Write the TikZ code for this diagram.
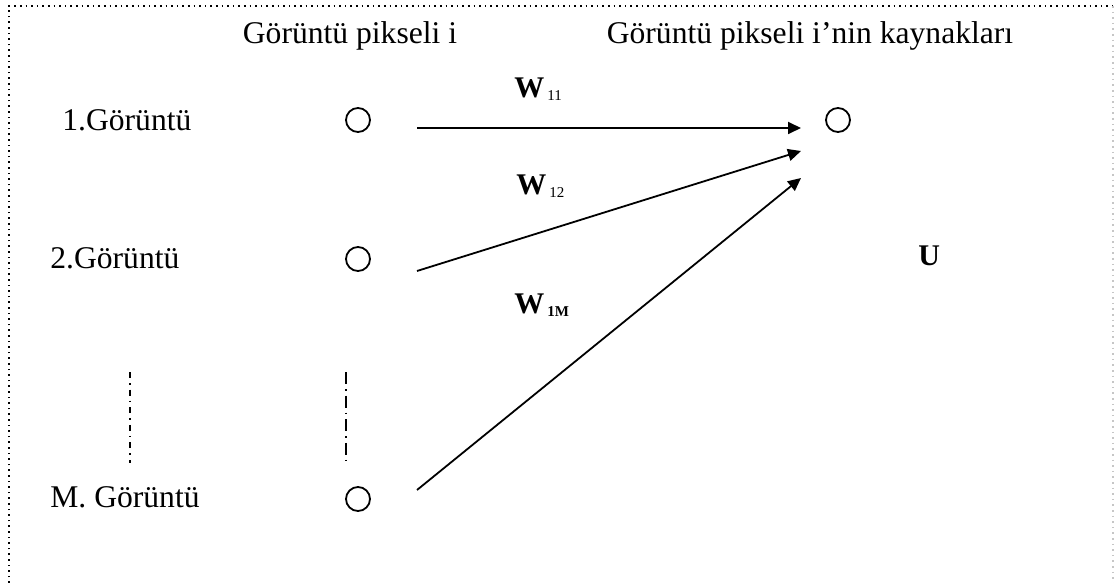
\documentclass[tikz,border=0pt]{standalone}
\usepackage{fontspec}
\setmainfont{Liberation Serif}
\usepackage{tikz}
\usetikzlibrary{arrows.meta,positioning}

\newcommand{\wsub}[1]{{\fontsize{7.5}{9}\selectfont\raisebox{-1.5pt}{#1}}}

\begin{document}
\begin{tikzpicture}[x=0.5pt,y=-0.5pt,
  lbl/.style={inner sep=0pt,font=\fontsize{15.8}{18}\selectfont},
  wlbl/.style={inner sep=0pt,anchor=west,font=\fontsize{15}{17}\selectfont\bfseries},
  pix/.style={circle,draw,line width=0.9pt,minimum size=12pt,inner sep=0pt},
  arrow/.style={-{Triangle[length=6.5pt,width=6pt]},line width=0.9pt},
  frame/.style={dotted,line width=0.8pt},
  vdotsL/.style={line width=0.8pt,dash pattern=on 3pt off 2.5pt on 0.8pt off 2.5pt},
  vdotsR/.style={line width=0.8pt,dash pattern=on 6pt off 2.5pt on 0.8pt off 2.5pt}
]
\useasboundingbox (0,0) rectangle (1114,583);
% frame
\draw[frame] (9,583) -- (9,6) -- (1113,6);
\draw[frame,gray!45] (1113,6) -- (1113,583);
% headers
\node[lbl] (hpix) at (350,36) {Görüntü pikseli i};
\node[lbl] (hsrc) at (810,36) {Görüntü pikseli i’nin kaynakları};
% image labels
\node[lbl,anchor=west] (g1) at (62,120) {1.Görüntü};
\node[lbl,anchor=west] (g2) at (50,258) {2.Görüntü};
\node[lbl,anchor=west] (gM) at (50,497) {M. Görüntü};
% pixels
\node[pix] (p1) at (358,120) {};
\node[pix] (p2) at (358,259) {};
\node[pix] (pM) at (358,499) {};
\node[pix] (u) at (838,120) {};
% dots between images
\coordinate (lt) at (130,372);
\coordinate (lb) at (130,463);
\coordinate (rt) at (346,372);
\coordinate (rb) at (346,464);
\draw[vdotsL] (lt) -- (lb);
\draw[vdotsR] (rt) -- (rb);
% arrow ends
\coordinate (s1) at (417,128);
\coordinate (s2) at (417,271);
\coordinate (sM) at (417,490);
\coordinate (e1) at (801,128);
\coordinate (e2) at (801,151);
\coordinate (eM) at (801,178);
\foreach \k in {1,2,M} {
  \draw[arrow] (s\k) -- (e\k);
}
% weights
\node[wlbl] (w11) at (514,89) {W\kern1.5pt\wsub{\mdseries 11}};
\node[wlbl] (w12) at (516,186) {W\kern1.5pt\wsub{\mdseries 12}};
\node[wlbl] (w1M) at (514,305) {W\kern1.5pt\wsub{1M}};
\node[wlbl] (U) at (918,256) {U};
\end{tikzpicture}
\end{document}
